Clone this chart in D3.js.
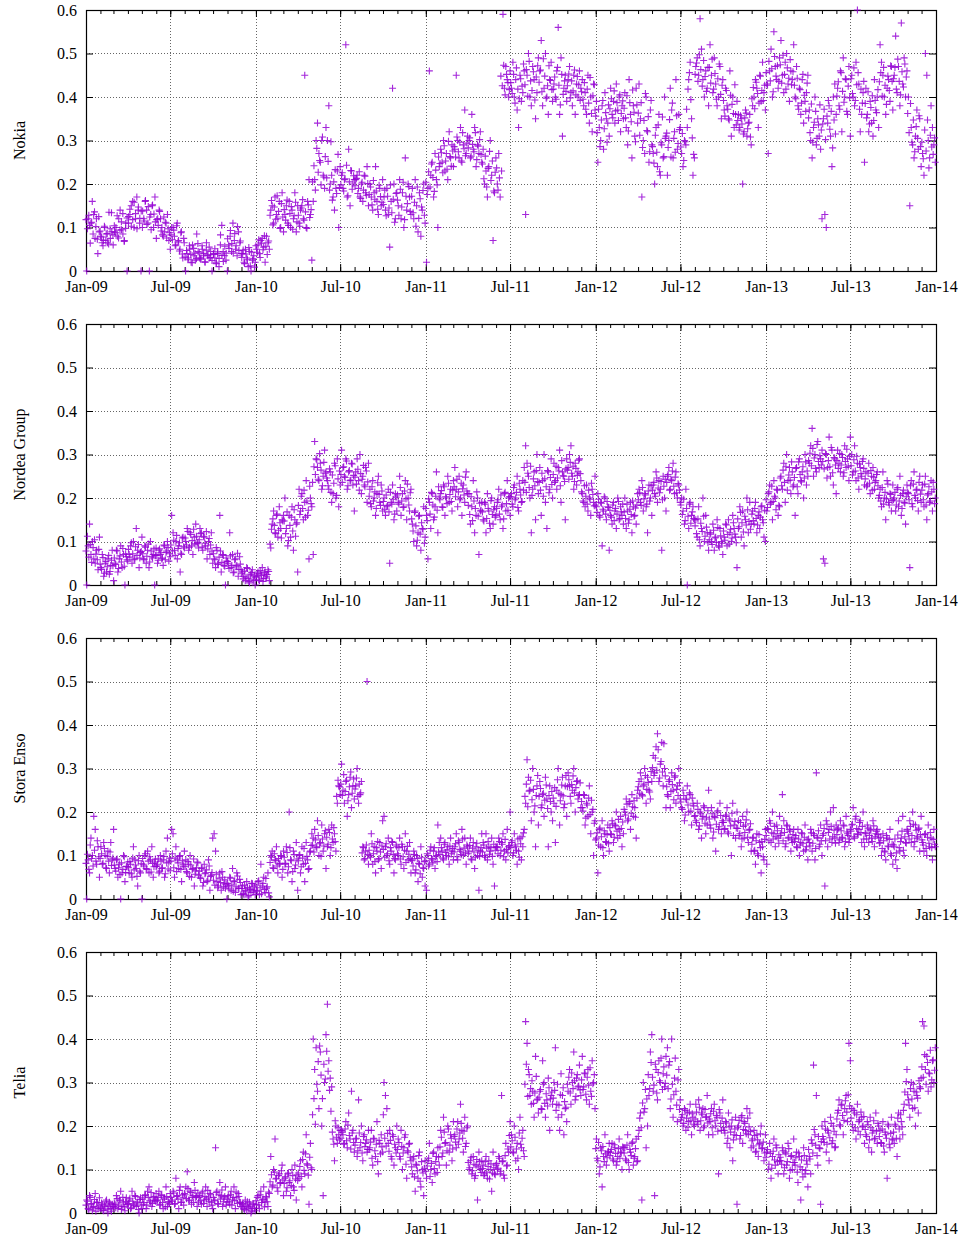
<!DOCTYPE html>
<html><head><meta charset="utf-8">
<script src="https://cdn.jsdelivr.net/npm/d3@7"></script>
<style>
body{margin:0;background:#fff;}
text{font-family:"Liberation Serif","Times New Roman",serif;font-size:16px;fill:#000;}
</style></head>
<body>
<script>
// ---------- categories / labels ----------
const panelNames = ["Nokia", "Nordea Group", "Stora Enso", "Telia"];
const years = [2009, 2010, 2011, 2012, 2013];
const yTickValues = [0, 0.1, 0.2, 0.3, 0.4, 0.5, 0.6];
const yTickLabels = ["0", "0.1", "0.2", "0.3", "0.4", "0.5", "0.6"];
const xTickLabels = ["Jan-09","Jul-09","Jan-10","Jul-10","Jan-11","Jul-11","Jan-12","Jul-12","Jan-13","Jul-13","Jan-14"];

// ---------- values (two passes per year, ~10 + ~10 per month) ----------
const nokia2009 = [0,.12,.105,.11,.16,.13,.075,.12,.04,.09, .08,.065,.07,.10,.085,.065,.135,.075,.09,.06, .09,.10,.08,.12,.14,.095,.085,.07,.11,0, .11,.13,.15,.16,.10,.12,.17,.14,.11,0,.10, .12,.16,.14,.11,0,.13,.15,.10,.17,.075,.12, .14,.12,.10,.08,.09,.11,.13,.07,.05,.10, .10,.08,.06,.11,.07,.05,.09,.03,.065,0, .04,.03,.05,.02,.06,.035,.025,.085,.045,.03, .03,.05,.04,.02,.065,.035,.03,.045,0,.04, .03,.02,.04,.01,.06,.105,.045,.035,.025,0, .06,.08,.045,.11,.07,.05,.035,.09,.065,.04, .04,.02,.05,.03,.01,.045,0,.025,.035,.02];
const nokia2009b = [.118,.097,.128,.064,.112,.085,.136,.102,.073,.125, .092,.078,.058,.103,.071,.086,.062,.097,.134,.083, .104,.088,.127,.076,.094,.113,.132,.068,.098,.122, .125,.142,.103,.118,.158,.132,.097,.147,.121,.138, .138,.115,.162,.107,.148,.124,.095,.152,.131,.113, .118,.105,.137,.092,.083,.124,.112,.076,.097,.088, .083,.072,.094,.058,.104,.067,.046,.088,.039,.075, .032,.047,.026,.058,.038,.019,.052,.041,.028,.063, .042,.027,.058,.035,.021,.048,.037,.055,.031,.024, .038,.051,.017,.044,.029,.083,.036,.022,.057,.041, .074,.052,.093,.063,.041,.086,.058,.102,.047,.069, .031,.048,.017,.039,.026,.054,.012,.043,.028,.009];
const nokia2010 = [.05,.06,.04,.07,.075,.055,.02,.08,.065,.05, .14,.15,.11,.17,.13,.12,.16,.10,.18,.09, .13,.15,.11,.16,.10,.14,.12,.18,.09,.15, .11,.14,.15,.12,.45,.10,.16,.21,.13,.025, .16,.21,.30,.34,.27,.25,.30,.22,.19,.33, .30,.38,.20,.22,.17,.14,.19,.23,.10,.24, .22,.19,.21,.52,.17,.28,.15,.23,.20,.21, .21,.22,.19,.17,.20,.16,.22,.18,.24,.15, .20,.17,.14,.18,.24,.16,.13,.19,.15,.21, .17,.14,.19,.13,.055,.16,.42,.20,.12,.18, .15,.21,.12,.18,.10,.26,.14,.20,.17,.13, .19,.12,.21,.15,.09,.18,.08,.14,.20,.11];
const nokia2010b = [.058,.043,.072,.031,.064,.049,.081,.057,.038,.069, .128,.162,.106,.147,.119,.173,.137,.098,.155,.124, .141,.117,.163,.105,.132,.148,.096,.127,.158,.113, .128,.103,.145,.164,.117,.136,.098,.152,.123,.141, .205,.242,.186,.282,.227,.254,.198,.308,.216,.263, .214,.252,.186,.297,.163,.205,.233,.178,.268,.192, .198,.226,.184,.212,.243,.173,.205,.231,.188,.219, .196,.213,.178,.228,.167,.204,.186,.218,.174,.201, .176,.193,.152,.208,.165,.184,.142,.197,.171,.158, .153,.186,.127,.172,.145,.198,.134,.165,.112,.178, .163,.128,.188,.147,.204,.118,.172,.155,.194,.137, .172,.134,.158,.103,.193,.121,.166,.147,.185,.128];
const nokia2011 = [.02,.19,.46,.22,.25,.17,.27,.21,.10,.24, .28,.25,.30,.23,.27,.21,.32,.26,.29,.24, .28,.45,.30,.26,.33,.25,.29,.37,.27,.31, .30,.26,.36,.28,.33,.24,.29,.27,.32,.25, .28,.20,.23,.17,.24,.30,.22,.07,.18,.26, .20,.27,.17,.23,.59,.42,.47,.44,.40,.46, .42,.48,.40,.44,.37,.33,.45,.39,.41,.46, .13,.45,.50,.40,.38,.47,.44,.35,.41,.49, .46,.53,.38,.42,.50,.40,.36,.44,.48,.39, .43,.40,.46,.56,.36,.49,.31,.42,.45,.39, .44,.47,.41,.38,.45,.36,.43,.40,.46,.42, .44,.38,.41,.36,.45,.34,.40,.32,.43,.37];
const nokia2011b = [.204,.176,.228,.193,.246,.215,.183,.232,.198,.262, .247,.272,.226,.288,.253,.234,.298,.263,.241,.276, .286,.262,.308,.274,.296,.253,.318,.281,.265,.294, .283,.306,.264,.291,.274,.318,.256,.287,.302,.268, .246,.212,.264,.193,.236,.275,.208,.253,.184,.227, .237,.186,.214,.448,.426,.473,.405,.452,.433,.417, .433,.408,.452,.386,.467,.418,.396,.442,.425,.476, .428,.463,.402,.482,.437,.415,.458,.393,.446,.472, .434,.462,.412,.488,.448,.397,.426,.472,.438,.417, .418,.446,.395,.468,.427,.382,.452,.406,.437,.413, .426,.453,.398,.437,.414,.462,.405,.447,.428,.392, .412,.395,.433,.372,.418,.386,.445,.362,.403,.428];
const nokia2012 = [.39,.25,.33,.30,.38,.28,.41,.35,.34,.31, .42,.36,.39,.34,.43,.37,.40,.32,.38,.35, .41,.33,.29,.44,.36,.26,.38,.31,.42,.34, .43,.35,.17,.30,.27,.40,.32,.25,.37,.29, .27,.20,.33,.24,.36,.22,.29,.26,.40,.31, .22,.30,.42,.37,.26,.32,.44,.28,.36,.33, .27,.24,.30,.29,.33,.44,.48,.35,.22,.26, .47,.49,.45,.58,.51,.44,.40,.46,.42,.38, .52,.45,.41,.49,.43,.38,.40,.47,.35,.44, .37,.42,.38,.35,.46,.31,.40,.33,.36,.39, .36,.33,.35,.20,.32,.37,.31,.34,.36,.29, .38,.40,.44,.42,.33,.45,.39,.48,.41,.37];
const nokia2012b = [.356,.318,.372,.286,.347,.392,.327,.364,.296,.382, .373,.396,.352,.414,.368,.387,.346,.405,.362,.391, .374,.352,.403,.322,.387,.343,.416,.365,.297,.382, .363,.312,.387,.284,.346,.408,.323,.355,.274,.392, .286,.248,.312,.273,.336,.228,.295,.354,.263,.305, .317,.284,.348,.262,.386,.305,.273,.357,.293,.325, .285,.316,.254,.297,.372,.418,.456,.394,.306,.268, .452,.478,.436,.497,.463,.425,.484,.447,.413,.468, .468,.432,.487,.418,.454,.395,.442,.476,.406,.427, .392,.356,.415,.372,.347,.404,.383,.362,.428,.336, .346,.324,.357,.338,.315,.352,.363,.327,.342,.308, .396,.422,.373,.434,.408,.386,.448,.415,.392,.427];
const nokia2013 = [.43,.27,.46,.51,.40,.55,.47,.44,.42,.49, .53,.45,.41,.48,.50,.43,.39,.46,.44,.52, .40,.47,.38,.42,.36,.44,.34,.39,.41,.45, .37,.30,.26,.33,.40,.29,.35,.31,.28,.12, .35,.13,.10,.34,.38,.31,.24,.40,.43,.36, .42,.38,.46,.32,.49,.40,.44,.36,.47,.31, .45,.40,.38,.48,.60,.43,.32,.36,.41,.25, .42,.36,.32,.39,.34,.31,.44,.37,.40,.33, .52,.48,.45,.40,.36,.42,.44,.39,.47,.37, .45,.54,.41,.47,.38,.57,.43,.49,.40,.46, .40,.15,.33,.29,.26,.31,.37,.28,.35,.24, .27,.22,.50,.45,.30,.26,.38,.33,.29,.25];
const nokia2013b = [.456,.427,.482,.437,.465,.412,.493,.448,.472,.436, .474,.432,.496,.452,.418,.467,.443,.486,.428,.458, .427,.396,.443,.372,.417,.386,.452,.404,.367,.432, .352,.318,.384,.296,.342,.367,.305,.336,.382,.324, .338,.372,.302,.356,.392,.326,.367,.283,.347,.315, .402,.435,.372,.456,.413,.388,.442,.367,.425,.398, .442,.408,.467,.392,.428,.456,.372,.418,.386,.436, .385,.352,.412,.338,.376,.403,.346,.392,.364,.417, .435,.456,.402,.468,.427,.383,.448,.415,.472,.436, .442,.468,.418,.487,.436,.405,.458,.423,.476,.446, .362,.318,.385,.296,.347,.274,.332,.305,.357,.286, .296,.258,.324,.276,.347,.237,.312,.285,.268,.306];

const nordea2009 = [0,.09,.14,.07,.10,.06,.05,.08,.035,.11, .04,.07,.02,.05,.03,.06,.025,.045,.08,.01, .05,.08,.03,.06,.09,.04,.07,0,.065,.055, .07,.09,.05,.10,.06,.13,.08,.04,.075,.11, .06,.09,.05,.08,.04,.10,.065,.07,0,.085, .05,.08,.07,.06,.045,.09,.075,.10,.055,.065, .16,.12,.08,.10,.06,.09,.03,.07,.11,.085, .10,.13,.08,.12,.09,.07,.11,.14,.095,.085, .13,.12,.08,.11,.09,.06,.10,.07,.12,.05, .06,.04,.08,.05,.16,.03,.07,.045,0,.055, .05,.12,.04,.07,.03,.06,.045,.02,.065,.035, .03,.02,.01,.04,.015,.005,.025,.035,.01,0];
const nordea2009b = [.078,.112,.064,.093,.052,.086,.104,.071,.058,.082, .048,.036,.063,.027,.054,.042,.068,.031,.057,.044, .062,.047,.078,.038,.067,.053,.084,.043,.072,.058, .082,.064,.097,.072,.058,.088,.068,.093,.062,.077, .072,.058,.087,.066,.094,.053,.078,.062,.083,.068, .068,.057,.083,.074,.062,.092,.058,.078,.086,.072, .092,.078,.103,.068,.114,.084,.097,.073,.108,.088, .108,.092,.123,.087,.116,.102,.128,.094,.112,.098, .104,.118,.087,.112,.096,.123,.083,.107,.092,.078, .072,.058,.086,.047,.064,.078,.052,.068,.043,.062, .054,.038,.067,.045,.028,.058,.042,.073,.036,.048, .026,.014,.032,.018,.038,.008,.023,.029,.012,.021];
const nordea2010 = [.02,.03,.01,.025,.04,.015,.03,.02,.035,.01, .085,.14,.17,.12,.16,.11,.18,.13,.15,.16, .20,.13,.09,.16,.11,.18,.08,.15,.14,.03, .22,.17,.21,.15,.19,.24,.16,.06,.20,.18, .07,.33,.29,.27,.24,.28,.22,.25,.31,.26, .24,.22,.26,.19,.21,.28,.20,.29,.18,.23, .31,.27,.25,.29,.22,.26,.24,.28,.23,.17, .26,.29,.24,.30,.21,.25,.23,.27,.19,.28, .22,.18,.24,.20,.16,.21,.25,.19,.23,.17, .20,.16,.18,.22,.05,.19,.23,.15,.21,.17, .19,.25,.16,.21,.18,.24,.15,.20,.17,.22, .14,.10,.17,.09,.12,.16,.08,.13,.18,.11];
const nordea2010b = [.018,.027,.012,.033,.022,.008,.028,.016,.024,.031, .094,.128,.152,.137,.118,.163,.126,.143,.108,.147, .147,.118,.168,.102,.137,.156,.124,.173,.112,.143, .183,.162,.204,.176,.218,.156,.193,.172,.227,.187, .236,.272,.254,.288,.243,.302,.264,.228,.282,.257, .246,.228,.267,.213,.253,.234,.274,.206,.244,.262, .254,.236,.272,.247,.285,.228,.263,.241,.278,.252, .248,.232,.266,.218,.256,.243,.275,.226,.262,.237, .204,.187,.226,.193,.214,.176,.235,.208,.183,.216, .192,.174,.207,.183,.168,.213,.186,.197,.163,.202, .207,.186,.224,.193,.178,.216,.198,.232,.184,.212, .152,.124,.167,.136,.103,.158,.117,.143,.128,.096];
const nordea2011 = [.16,.06,.19,.13,.21,.15,.18,.26,.12,.20, .21,.18,.23,.16,.20,.25,.19,.22,.17,.24, .27,.22,.18,.25,.20,.16,.23,.19,.26,.21, .21,.14,.18,.24,.12,.16,.20,.07,.17,.19, .15,.19,.12,.21,.17,.13,.20,.14,.18,.16, .19,.22,.15,.18,.13,.21,.17,.24,.20,.16, .21,.18,.23,.20,.25,.17,.22,.19,.24,.27, .32,.28,.25,.20,.12,.22,.26,.15,.30,.21, .27,.16,.24,.30,.19,.13,.26,.22,.29,.20, .28,.24,.22,.27,.31,.19,.26,.25,.15,.29, .27,.30,.32,.25,.22,.28,.23,.26,.29,.24, .21,.19,.18,.23,.17,.20,.16,.22,.19,.25];
const nordea2011b = [.176,.148,.198,.163,.213,.184,.156,.204,.172,.226, .196,.217,.178,.226,.203,.187,.234,.208,.192,.218, .226,.203,.243,.214,.196,.234,.221,.207,.248,.216, .183,.162,.203,.148,.193,.176,.214,.158,.188,.172, .168,.147,.186,.153,.176,.142,.194,.162,.173,.156, .176,.196,.163,.207,.184,.152,.213,.187,.172,.203, .203,.186,.224,.196,.213,.178,.234,.207,.192,.218, .236,.213,.257,.224,.273,.206,.244,.228,.263,.238, .236,.218,.257,.204,.244,.226,.263,.212,.247,.231, .254,.236,.273,.246,.262,.228,.286,.251,.238,.267, .264,.243,.282,.257,.273,.238,.268,.252,.287,.256, .214,.193,.228,.204,.186,.218,.197,.234,.208,.182];
const nordea2012 = [.18,.21,.16,.19,.09,.17,.20,.15,.18,.08, .16,.14,.19,.17,.13,.20,.15,.18,.16,.14, .20,.13,.17,.15,.19,.12,.18,.16,.14,.21, .22,.19,.24,.17,.21,.18,.12,.23,.20,.16, .23,.21,.26,.19,.24,.22,.08,.25,.20,.17, .25,.27,.22,.24,.28,.21,.26,.20,.23,.19, .20,.17,.14,.22,0,.13,.19,.16,.18,.15, .15,.11,.18,.09,.13,.20,.10,.16,.12,.08, .12,.10,.14,.08,.11,.15,.09,.13,.10,.07, .11,.14,.09,.15,.12,.10,.16,.13,.11,.04, .13,.18,.11,.17,.09,.15,.20,.12,.19,.14, .17,.14,.19,.12,.16,.13,.18,.15,.11,.10];
const nordea2012b = [.184,.167,.197,.156,.188,.174,.203,.163,.192,.178, .172,.156,.184,.148,.176,.163,.192,.153,.168,.186, .168,.153,.186,.142,.174,.162,.193,.158,.177,.184, .196,.212,.183,.224,.198,.207,.186,.216,.193,.228, .218,.236,.204,.246,.223,.212,.238,.196,.227,.243, .236,.254,.218,.243,.262,.227,.248,.212,.233,.218, .184,.162,.197,.148,.176,.158,.186,.142,.168,.153, .136,.118,.152,.104,.142,.123,.158,.112,.133,.097, .104,.117,.093,.126,.108,.098,.132,.087,.113,.096, .124,.103,.138,.116,.094,.128,.108,.143,.117,.097, .152,.134,.167,.143,.122,.158,.138,.173,.146,.128, .163,.148,.176,.153,.138,.168,.156,.182,.143,.172];
const nordea2013 = [.17,.21,.23,.19,.15,.24,.20,.22,.16,.18, .25,.22,.28,.19,.30,.24,.27,.21,.26,.23, .16,.27,.21,.29,.24,.26,.20,.30,.23,.25, .28,.32,.36,.25,.30,.26,.33,.27,.29,.31, .06,.05,.30,.27,.34,.25,.31,.23,.29,.21, .31,.28,.26,.30,.25,.32,.27,.29,.24,.34, .30,.26,.32,.24,.28,.22,.27,.25,.29,.23, .26,.23,.28,.21,.25,.27,.22,.24,.26,.20, .22,.18,.26,.20,.15,.24,.19,.21,.17,.23, .20,.17,.22,.18,.25,.16,.21,.19,.14,.23, .21,.04,.24,.18,.26,.20,.22,.17,.25,.19, .23,.18,.25,.15,.21,.19,.24,.17,.22,.20];
const nordea2013b = [.196,.178,.214,.186,.227,.192,.204,.173,.218,.183, .246,.228,.264,.236,.272,.218,.253,.241,.283,.226, .247,.268,.226,.283,.254,.237,.272,.246,.283,.262, .286,.303,.274,.314,.292,.268,.323,.284,.297,.276, .284,.267,.302,.246,.286,.272,.316,.258,.293,.276, .286,.268,.302,.276,.293,.258,.284,.312,.273,.296, .274,.253,.288,.262,.296,.246,.278,.256,.284,.268, .244,.226,.257,.234,.263,.218,.248,.236,.254,.228, .206,.193,.224,.186,.213,.198,.232,.184,.208,.194, .196,.213,.184,.224,.193,.206,.176,.218,.188,.203, .213,.196,.228,.187,.232,.206,.218,.194,.236,.209, .218,.196,.232,.184,.207,.226,.193,.214,.236,.187];

const stora2009 = [0,.09,.06,.14,.10,.19,.16,.08,.12,.05, .12,.08,.13,.10,.07,.11,.06,.13,.09,.16, .07,.09,.05,.08,0,.06,.10,.04,.075,.085, .06,.08,.05,.12,.09,.07,.03,.10,.06,0, .08,.10,.07,.11,.06,.09,.12,.05,.085,.075, .08,.06,.10,.07,.09,.05,.11,.14,.085,.065, .16,.15,.05,.12,.09,.07,.10,.04,.08,.11, .09,.06,.08,.10,.05,.07,.03,.065,.085,.055, .05,.07,.03,.08,.06,.04,.09,.02,.055,.14, .15,.11,.04,.03,.06,.02,.05,.035,.025,0, .03,.05,.02,.07,.04,.015,.06,.025,.045,.01, .03,.01,.02,.04,.005,.025,.015,.035,.02,.01];
const stora2009b = [.082,.103,.068,.124,.093,.076,.112,.087,.134,.097, .093,.104,.082,.116,.072,.098,.087,.108,.077,.094, .078,.064,.092,.072,.056,.083,.068,.097,.061,.074, .072,.086,.058,.094,.067,.078,.052,.088,.064,.081, .093,.076,.104,.068,.087,.097,.062,.082,.074,.092, .076,.092,.064,.087,.072,.098,.058,.083,.069,.094, .087,.104,.072,.094,.063,.083,.098,.068,.088,.076, .074,.063,.086,.052,.078,.068,.092,.057,.072,.083, .064,.047,.072,.038,.058,.067,.043,.076,.052,.061, .043,.032,.057,.026,.048,.038,.063,.028,.044,.034, .036,.023,.048,.032,.018,.042,.028,.053,.024,.038, .024,.013,.032,.018,.027,.008,.022,.036,.016,.028];
const stora2010 = [.02,.04,.01,.08,.03,.05,.015,.025,.06,.005, .10,.11,.07,.09,.12,.06,.08,.10,.05,.11, .08,.12,.06,.20,.09,.04,.11,.07,.13,.02, .10,.06,.12,.08,.04,.13,.09,.07,.11,.15, .14,.16,.12,.18,.10,.13,.17,.11,.15,.07, .12,.16,.10,.17,.13,.15,.11,.22,.26,.24, .31,.25,.22,.27,.19,.24,.28,.21,.26,.23, .26,.30,.22,.24,.27,.12,.09,.11,.50,.08, .10,.15,.08,.12,.06,.11,.09,.13,.07,.18, .19,.12,.10,.14,.08,.11,.13,.06,.09,.12, .10,.14,.08,.12,.07,.15,.11,.09,.13,.06, .09,.11,.06,.10,.04,.08,.12,.05,.07,.03];
const stora2010b = [.032,.018,.042,.026,.012,.036,.022,.047,.028,.014, .084,.096,.072,.104,.088,.076,.093,.082,.098,.068, .096,.082,.107,.074,.118,.088,.063,.102,.078,.092, .088,.102,.074,.094,.116,.082,.098,.068,.108,.123, .124,.108,.136,.118,.146,.127,.098,.138,.122,.157, .142,.126,.153,.118,.138,.164,.132,.236,.273,.258, .264,.238,.286,.247,.273,.226,.258,.292,.243,.276, .253,.278,.236,.264,.244,.106,.118,.093,.124,.102, .112,.096,.127,.104,.086,.118,.132,.093,.108,.122, .114,.096,.127,.104,.088,.118,.132,.102,.093,.124, .104,.118,.092,.126,.097,.112,.084,.121,.103,.093, .088,.076,.102,.067,.093,.082,.058,.096,.072,.086];
const stora2011 = [.02,.10,.08,.12,.09,.11,.07,.10,.17,.13, .14,.11,.09,.13,.10,.12,.08,.14,.11,.09, .12,.15,.09,.13,.11,.16,.10,.14,.08,.12, .11,.14,.09,.13,.07,.12,.10,.02,.11,.15, .13,.10,.15,.09,.12,.11,.14,.08,.03,.12, .12,.14,.10,.13,.15,.11,.09,.16,.12,.20, .13,.10,.15,.12,.08,.11,.14,.09,.12,.16, .22,.32,.28,.25,.18,.30,.20,.12,.26,.17, .27,.21,.24,.19,.28,.23,.12,.26,.20,.18, .22,.13,.25,.30,.17,.24,.28,.21,.26,.19, .29,.26,.22,.25,.30,.20,.27,.23,.24,.21, .21,.24,.17,.22,.19,.26,.15,.20,.10,.18];
const stora2011b = [.088,.104,.076,.112,.093,.083,.118,.097,.086,.108, .102,.118,.094,.126,.107,.113,.097,.122,.104,.116, .108,.127,.097,.134,.114,.102,.138,.117,.106,.124, .104,.123,.092,.117,.108,.096,.128,.112,.098,.118, .108,.124,.096,.117,.132,.103,.118,.098,.126,.112, .118,.104,.132,.112,.126,.097,.137,.114,.106,.123, .118,.134,.106,.124,.112,.138,.096,.127,.143,.152, .236,.264,.212,.248,.273,.228,.252,.214,.238,.284, .236,.254,.216,.243,.227,.262,.208,.238,.224,.247, .232,.256,.213,.274,.243,.226,.262,.237,.218,.284, .258,.274,.236,.263,.283,.244,.256,.272,.238,.267, .224,.202,.238,.186,.216,.232,.194,.227,.206,.174];
const stora2012 = [.14,.06,.16,.12,.18,.10,.15,.13,.17,.11, .15,.18,.13,.17,.20,.14,.16,.19,.12,.15, .20,.23,.18,.22,.16,.24,.19,.21,.14,.25, .27,.29,.24,.26,.30,.22,.28,.25,.23,.27, .33,.29,.35,.38,.27,.31,.36,.26,.30,.21, .24,.27,.21,.29,.25,.28,.22,.26,.30,.23, .21,.25,.18,.23,.26,.20,.24,.17,.22,.19, .18,.22,.16,.20,.14,.19,.21,.15,.17,.25, .17,.21,.14,.19,.11,.20,.16,.22,.15,.18, .16,.19,.21,.15,.18,.10,.22,.17,.14,.20, .18,.15,.12,.19,.14,.17,.20,.13,.16,.11, .14,.11,.08,.15,.10,.13,.06,.12,.09,.16];
const stora2012b = [.136,.152,.124,.163,.143,.118,.157,.132,.148,.127, .164,.148,.173,.142,.168,.156,.183,.146,.162,.177, .206,.193,.218,.184,.224,.197,.212,.226,.188,.232, .258,.243,.276,.237,.264,.284,.252,.268,.246,.293, .302,.284,.324,.296,.343,.278,.316,.292,.357,.283, .258,.236,.274,.247,.263,.228,.283,.252,.238,.267, .223,.206,.238,.193,.228,.216,.244,.202,.232,.214, .192,.176,.206,.168,.196,.184,.214,.174,.188,.203, .184,.163,.196,.154,.187,.172,.203,.166,.192,.176, .176,.162,.193,.154,.184,.168,.197,.146,.178,.163, .162,.146,.176,.138,.167,.153,.182,.142,.158,.173, .126,.142,.112,.134,.104,.148,.118,.132,.097,.137];
const stora2013 = [.08,.16,.18,.13,.20,.15,.12,.17,.14,.19, .15,.24,.18,.12,.17,.14,.16,.11,.13,.16, .14,.12,.16,.10,.13,.15,.11,.17,.12,.09, .13,.16,.11,.15,.09,.29,.14,.12,.17,.10, .15,.03,.18,.12,.16,.20,.13,.21,.14,.17, .16,.13,.18,.14,.17,.12,.19,.15,.13,.16, .17,.21,.14,.19,.15,.16,.18,.13,.20,.12, .15,.17,.13,.16,.14,.18,.12,.15,.16,.14, .13,.10,.15,.11,.09,.14,.12,.16,.10,.08, .12,.09,.07,.18,.11,.14,.19,.10,.13,.16, .15,.18,.13,.20,.12,.17,.14,.16,.11,.19, .13,.11,.15,.10,.17,.12,.14,.09,.16,.12];
const stora2013b = [.146,.162,.134,.174,.152,.138,.167,.143,.157,.128, .146,.162,.134,.153,.127,.168,.142,.156,.136,.148, .132,.146,.118,.138,.124,.152,.128,.142,.113,.136, .138,.122,.152,.128,.146,.116,.142,.157,.126,.134, .146,.162,.134,.172,.153,.138,.167,.143,.158,.128, .148,.163,.136,.157,.142,.168,.132,.154,.146,.138, .156,.172,.143,.184,.162,.148,.176,.153,.167,.138, .152,.138,.163,.146,.157,.132,.168,.143,.156,.148, .128,.142,.116,.134,.108,.146,.122,.137,.104,.126, .124,.138,.106,.147,.118,.132,.156,.112,.143,.128, .156,.138,.167,.146,.172,.132,.158,.143,.163,.148, .136,.124,.148,.116,.142,.128,.153,.118,.137,.126];

const telia2009 = [.03,.01,.04,.02,.005,.015,.045,.025,.01,.035, .01,.02,.005,.015,.03,0,.025,.01,.02,.015, .02,.04,.01,.03,.05,.015,.025,.005,.035,.02, .03,.01,.05,.02,.04,.015,.025,0,.035,.01, .02,.04,.01,.05,.06,.025,.015,.035,.03,.045, .03,.05,.02,.04,.01,.035,.06,.015,.025,.045, .03,.05,.02,.08,.04,.01,.06,.025,.035,.045, .06,.095,.03,.05,.02,.04,.07,.035,.015,.025, .04,.02,.05,.03,.06,.015,.035,.045,.025,.01, .03,.15,.05,.02,.07,.04,.015,.035,.06,.025, .04,.02,.05,.03,.06,.01,.035,.045,.025,.015, .02,.01,.03,.005,.015,.025,0,.01,.02,.005];
const telia2009b = [.018,.027,.008,.036,.022,.013,.031,.004,.024,.016, .012,.023,.006,.018,.027,.009,.016,.021,.004,.014, .023,.012,.033,.018,.028,.008,.036,.014,.026,.019, .022,.034,.012,.027,.017,.038,.023,.008,.031,.018, .032,.024,.042,.018,.036,.028,.047,.022,.038,.027, .028,.036,.018,.042,.024,.032,.014,.038,.026,.021, .036,.027,.046,.022,.038,.032,.052,.024,.042,.018, .042,.033,.056,.028,.047,.036,.024,.052,.038,.046, .036,.028,.046,.022,.038,.032,.052,.026,.042,.018, .036,.028,.047,.022,.042,.032,.053,.026,.038,.018, .032,.026,.042,.018,.036,.028,.048,.022,.038,.024, .014,.022,.008,.018,.026,.012,.016,.004,.021,.011];
const telia2010 = [.02,.04,.01,.05,.03,.06,.025,.035,.015,.045, .13,.06,.10,.17,.08,.05,.09,.07,.11,.04, .08,.05,.09,.07,.04,.10,.06,.11,.03,.075, .08,.12,.06,.14,.09,.18,.11,.02,.16,.10, .40,.33,.38,.28,.24,.37,.20,.04,.30,.41, .48,.35,.31,.29,.17,.12,.20,.16,.18,.19, .19,.18,.16,.21,.15,.23,.17,.28,.19,.14, .17,.13,.26,.15,.20,.12,.18,.16,.14,.19, .15,.19,.11,.17,.13,.21,.09,.16,.18,.14, .30,.27,.24,.16,.19,.13,.18,.11,.15,.20, .17,.13,.19,.10,.15,.18,.08,.14,.16,.12, .09,.13,.05,.11,.08,.14,.06,.10,.04,.12];
const telia2010b = [.028,.036,.018,.042,.024,.032,.014,.038,.026,.048, .072,.088,.064,.094,.078,.058,.086,.068,.097,.076, .068,.083,.058,.092,.074,.063,.086,.052,.078,.088, .092,.107,.084,.123,.098,.136,.113,.087,.128,.104, .226,.263,.204,.296,.348,.384,.317,.263,.342,.308, .372,.326,.282,.234,.186,.158,.212,.174,.196,.168, .172,.186,.158,.193,.166,.202,.178,.147,.184,.162, .156,.172,.143,.184,.162,.138,.176,.153,.168,.146, .146,.163,.126,.172,.143,.158,.118,.167,.136,.152, .226,.172,.154,.183,.142,.167,.124,.176,.158,.138, .146,.162,.124,.153,.138,.174,.112,.143,.158,.128, .106,.124,.083,.112,.097,.132,.073,.118,.092,.103];
const telia2011 = [.08,.12,.16,.10,.07,.14,.09,.13,.15,.11, .19,.13,.22,.16,.11,.20,.14,.18,.12,.21, .18,.15,.21,.17,.25,.19,.14,.22,.16,.20, .10,.12,.09,.13,.08,.11,.03,.14,.10,.12, .11,.09,.13,.08,.12,.10,.05,.14,.09,.11, .10,.13,.09,.27,.12,.08,.16,.11,.14,.21, .18,.14,.20,.12,.16,.10,.22,.15,.19,.13, .44,.39,.33,.27,.25,.28,.22,.36,.26,.23, .28,.24,.35,.30,.22,.26,.31,.19,.27,.25, .30,.38,.25,.22,.19,.32,.27,.18,.24,.21, .28,.33,.25,.30,.37,.26,.31,.29,.34,.27, .36,.29,.32,.26,.33,.25,.28,.35,.30,.24];
const telia2011b = [.096,.108,.126,.084,.114,.137,.102,.118,.093,.128, .152,.174,.138,.186,.162,.143,.193,.156,.172,.147, .176,.163,.193,.158,.184,.206,.172,.188,.153,.196, .116,.104,.128,.097,.112,.086,.123,.106,.118,.093, .102,.086,.118,.094,.107,.078,.113,.092,.104,.088, .114,.103,.126,.096,.118,.087,.132,.108,.147,.178, .152,.166,.138,.174,.147,.126,.184,.158,.172,.143, .296,.342,.268,.318,.286,.304,.252,.276,.314,.262, .266,.284,.238,.296,.252,.274,.246,.288,.262,.278, .264,.282,.236,.296,.248,.272,.226,.288,.256,.243, .296,.312,.276,.322,.286,.304,.268,.318,.292,.283, .306,.284,.322,.273,.312,.294,.334,.268,.297,.318];
const telia2012 = [.17,.12,.09,.15,.06,.13,.18,.11,.14,.16, .14,.16,.12,.15,.11,.13,.17,.14,.10,.15, .15,.12,.18,.10,.14,.16,.11,.13,.17,.12, .19,.23,.03,.30,.24,.15,.20,.27,.37,.41, .28,.04,.33,.26,.35,.30,.40,.32,.29,.36, .38,.34,.24,.40,.22,.31,.28,.21,.33,.26, .22,.20,.24,.19,.23,.21,.25,.18,.22,.20, .25,.21,.26,.19,.23,.24,.20,.22,.27,.18, .21,.24,.18,.25,.20,.22,.09,.23,.19,.26, .19,.21,.16,.23,.15,.20,.12,.18,.22,.02, .20,.17,.22,.16,.21,.19,.24,.18,.23,.15, .17,.19,.14,.18,.13,.16,.20,.15,.12,.18];
const telia2012b = [.148,.126,.162,.106,.143,.153,.118,.136,.127,.142, .132,.146,.124,.157,.137,.118,.148,.126,.138,.152, .138,.124,.156,.116,.146,.132,.163,.126,.148,.118, .176,.218,.196,.253,.232,.284,.262,.318,.286,.346, .312,.294,.342,.276,.323,.304,.356,.284,.336,.298, .317,.286,.348,.262,.296,.272,.356,.248,.306,.238, .214,.226,.206,.236,.218,.197,.232,.212,.228,.204, .216,.232,.204,.243,.212,.226,.196,.238,.221,.207, .216,.228,.196,.234,.212,.224,.188,.238,.206,.218, .196,.184,.207,.172,.198,.186,.214,.168,.193,.178, .196,.213,.178,.224,.192,.206,.182,.218,.198,.187, .166,.154,.178,.142,.168,.157,.182,.148,.163,.138];
const telia2013 = [.14,.10,.16,.08,.13,.17,.11,.15,.09,.12, .12,.15,.09,.14,.11,.16,.08,.13,.10,.17, .11,.14,.07,.13,.03,.10,.15,.09,.12,.06, .13,.09,.16,.34,.18,.27,.11,.15,.02,.20, .17,.21,.14,.19,.12,.22,.16,.20,.15,.18, .23,.26,.20,.25,.18,.24,.27,.21,.39,.35, .24,.19,.23,.17,.25,.21,.18,.22,.20,.16, .18,.21,.15,.22,.14,.19,.17,.23,.16,.20, .19,.16,.21,.14,.18,.08,.20,.15,.22,.17, .16,.20,.13,.23,.17,.21,.18,.25,.39,.33, .26,.22,.30,.24,.28,.20,.27,.23,.29,.31, .44,.43,.33,.36,.28,.32,.29,.35,.30,.38];
const telia2013b = [.128,.146,.112,.137,.103,.142,.122,.156,.118,.134, .128,.112,.143,.104,.136,.118,.148,.098,.132,.116, .116,.127,.094,.138,.106,.122,.083,.132,.098,.112, .146,.124,.168,.138,.192,.156,.132,.176,.148,.164, .176,.162,.193,.158,.184,.173,.206,.166,.188,.152, .216,.236,.203,.248,.224,.213,.258,.232,.272,.246, .218,.203,.236,.196,.226,.188,.214,.232,.198,.222, .192,.176,.203,.168,.196,.184,.212,.172,.188,.206, .176,.162,.193,.154,.186,.172,.204,.158,.183,.168, .186,.204,.172,.218,.193,.226,.198,.236,.278,.302, .272,.248,.286,.262,.296,.242,.278,.264,.304,.286, .336,.312,.364,.296,.346,.322,.374,.306,.352,.328];

// ---------- assemble ----------
const panels = [
  {name: panelNames[0], a: [nokia2009, nokia2010, nokia2011, nokia2012, nokia2013], b: [nokia2009b, nokia2010b, nokia2011b, nokia2012b, nokia2013b]},
  {name: panelNames[1], a: [nordea2009, nordea2010, nordea2011, nordea2012, nordea2013], b: [nordea2009b, nordea2010b, nordea2011b, nordea2012b, nordea2013b]},
  {name: panelNames[2], a: [stora2009, stora2010, stora2011, stora2012, stora2013], b: [stora2009b, stora2010b, stora2011b, stora2012b, stora2013b]},
  {name: panelNames[3], a: [telia2009, telia2010, telia2011, telia2012, telia2013], b: [telia2009b, telia2010b, telia2011b, telia2012b, telia2013b]}
];

function toPoints(yearArrays, offset) {
  const pts = [];
  yearArrays.forEach((arr, k) => {
    const yr = years[k];
    const t0 = Date.UTC(yr, 0, 1), t1 = Date.UTC(yr + 1, 0, 1);
    arr.forEach((v, i) => {
      if (v == null) return;
      pts.push({date: new Date(t0 + (i + offset) / arr.length * (t1 - t0)), v: v});
    });
  });
  return pts;
}

// ---------- drawing ----------
const W = 962, H = 1241;
const plotLeft = 86, plotRight = 936, plotH = 261, firstTop = 10, step = 314;
const color = "#9400d3";
const serif = '"Liberation Serif","Times New Roman",serif';

const svg = d3.select("body").append("svg").attr("width", W).attr("height", H);

const x = d3.scaleUtc()
  .domain([new Date(Date.UTC(2009, 0, 1)), new Date(Date.UTC(2014, 0, 1))])
  .range([plotLeft, plotRight]);
const majorDates = d3.utcMonth.every(6).range(new Date(Date.UTC(2009, 0, 1)), new Date(Date.UTC(2014, 0, 2)));
const minorDates = d3.utcMonth.every(1).range(new Date(Date.UTC(2009, 0, 1)), new Date(Date.UTC(2014, 0, 2)));

panels.forEach((p, k) => {
  const top = firstTop + k * step, bottom = top + plotH;
  const y = d3.scaleLinear().domain([0, 0.6]).range([bottom, top]);
  const g = svg.append("g");

  // grid (dotted)
  const grid = g.append("g").attr("stroke", "#555").attr("stroke-width", 0.9).attr("stroke-dasharray", "1,2");
  grid.selectAll("line.h").data(yTickValues.slice(1, -1)).join("line")
    .attr("x1", plotLeft).attr("x2", plotRight)
    .attr("y1", d => Math.round(y(d)) + 0.5).attr("y2", d => Math.round(y(d)) + 0.5);
  grid.selectAll("line.v").data(majorDates.slice(1, -1)).join("line")
    .attr("y1", top).attr("y2", bottom)
    .attr("x1", d => Math.round(x(d)) + 0.5).attr("x2", d => Math.round(x(d)) + 0.5);

  // minor month ticks bottom & top
  g.append("g").attr("transform", `translate(0,${bottom})`)
    .call(d3.axisBottom(x).tickValues(minorDates).tickSize(-4).tickFormat(""))
    .call(s => s.select(".domain").remove());
  g.append("g").attr("transform", `translate(0,${top})`)
    .call(d3.axisTop(x).tickValues(minorDates).tickSize(-4).tickFormat(""))
    .call(s => s.select(".domain").remove());

  // major x ticks with labels
  const gx = g.append("g").attr("transform", `translate(0,${bottom})`)
    .call(d3.axisBottom(x).tickValues(majorDates).tickSize(-7).tickPadding(10).tickFormat((d, i) => xTickLabels[i]));
  gx.select(".domain").remove();
  gx.selectAll("text").style("font-family", serif).style("font-size", "16px").attr("fill", "#000");
  g.append("g").attr("transform", `translate(0,${top})`)
    .call(d3.axisTop(x).tickValues(majorDates).tickSize(-7).tickFormat(""))
    .call(s => s.select(".domain").remove());

  // y axis
  const gy = g.append("g").attr("transform", `translate(${plotLeft},0)`)
    .call(d3.axisLeft(y).tickValues(yTickValues).tickSize(-7).tickPadding(9).tickFormat((d, i) => yTickLabels[i]));
  gy.select(".domain").remove();
  gy.selectAll("text").style("font-family", serif).style("font-size", "16px").attr("fill", "#000");
  g.append("g").attr("transform", `translate(${plotRight},0)`)
    .call(d3.axisRight(y).tickValues(yTickValues).tickSize(-7).tickFormat(""))
    .call(s => s.select(".domain").remove());

  g.selectAll(".tick line").attr("stroke", "#000");

  // frame
  g.append("rect").attr("x", plotLeft + 0.5).attr("y", top + 0.5)
    .attr("width", plotRight - plotLeft).attr("height", plotH)
    .attr("fill", "none").attr("stroke", "#000").attr("stroke-width", 1.2);

  // y label
  g.append("text")
    .attr("transform", `translate(19,${top + plotH / 2}) rotate(-90)`)
    .attr("text-anchor", "middle").attr("dy", "0.35em")
    .style("font-family", serif).style("font-size", "16px")
    .text(p.name);

  // points
  const pts = toPoints(p.a, 0.5).concat(toPoints(p.b, 0));
  g.append("g").selectAll("path").data(pts).join("path")
    .attr("transform", d => `translate(${x(d.date)},${y(d.v)})`)
    .attr("d", "M-3.5,0H3.5M0,-3.5V3.5")
    .attr("fill", "none").attr("stroke", color).attr("stroke-width", 1.1).attr("stroke-opacity", 0.85);
});
</script>
</body></html>
